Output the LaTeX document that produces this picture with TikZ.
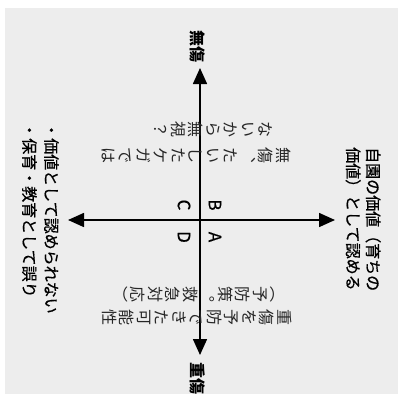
\documentclass[tikz,border=0pt]{standalone}
\usepackage{fontspec}
\setmainfont{Noto Sans CJK JP}
\newfontfamily\semib[FakeBold=0.6]{Noto Sans CJK JP}
\usetikzlibrary{arrows.meta}
\begin{document}
\begin{tikzpicture}[x=1pt,y=-1pt,
  lbl/.style={rotate=-90, inner sep=0pt, align=left, font=\semib\fontsize{16}{20}\selectfont},
  axlbl/.style={rotate=-90, inner sep=0pt, font=\bfseries\fontsize{16}{20}\selectfont},
  vcol/.style={rotate=-90, inner sep=0pt, align=center, text width=16pt, font=\fontsize{16}{17.5}\selectfont, text=black!85},
  axisline/.style={line width=1.6pt, {Triangle[length=16pt,width=14pt]}-{Triangle[length=16pt,width=14pt]}},
  letter/.style={rotate=-90, inner sep=0pt, font=\semib\fontsize{17}{17}\selectfont}]
\useasboundingbox (0,0) rectangle (398,394);
\fill[white] (0,0) rectangle (398,394);
\fill[black!7] (5,8) rectangle (398,394);
% axes
\coordinate (N) at (200,68);
\coordinate (S) at (200,355);
\coordinate (W) at (68,220);
\coordinate (E) at (335,220);
\draw[axisline] (N) -- (S);
\draw[axisline] (W) -- (E);
% axis labels
\node[axlbl] (mushou) at (198,46) {無傷};
\node[axlbl] (juushou) at (198,378) {重傷};
% side texts
\node[lbl, anchor=north west] (right) at (381,147) {自園の価値（育ちの\\価値）として認める};
\node[lbl, anchor=north west, font=\semib\fontsize{16}{22}\selectfont] (left) at (59,122) {・価値として認められない\\・保育・教育として誤り};
% quadrant letters
\node[letter] (B) at (215,205) {B};
\node[letter] (C) at (184,205) {C};
\node[letter] (A) at (215,237) {A};
\node[letter] (D) at (184,237) {D};
% quadrant texts (vertical writing)
\node[vcol, anchor=north] (q1a) at (291,155) {無\\傷\\︑\\た\\い\\し\\た\\ケ\\ガ\\で\\は};
\node[vcol, anchor=north] (q1b) at (273,129) {な\\い\\か\\ら\\無\\視\\？};
\node[vcol, anchor=north] (q2a) at (292,317) {重\\傷\\を\\予\\防\\で\\き\\た\\可\\能\\性};
\node[vcol, anchor=north] (q2b) at (275,294) {︵\\予\\防\\策\\︒\\救\\急\\対\\応\\︶};
\end{tikzpicture}
\end{document}
